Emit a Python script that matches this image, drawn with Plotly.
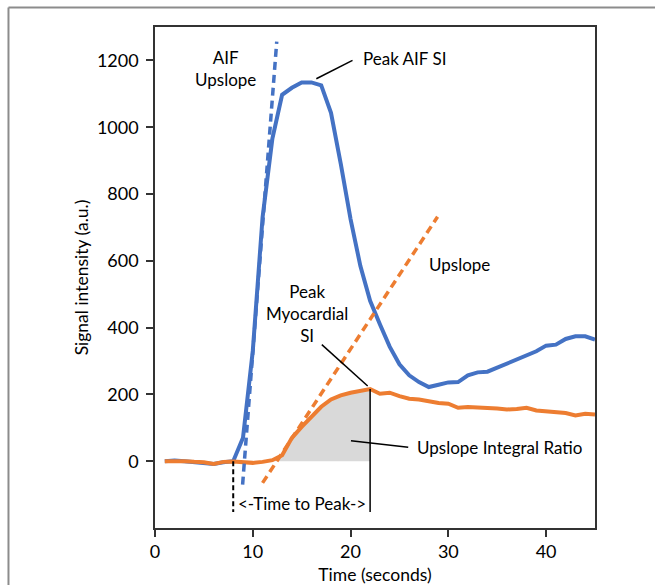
import plotly.graph_objects as go

# ---- data ----
time_s = list(range(1, 46))
aif_si = [0, 2, 0, -3, -5, -8, -3, 0, 70, 330, 730, 965, 1097, 1118, 1134,
          1134, 1125, 1043, 890, 725, 585, 480, 410, 343, 290, 257, 237, 222,
          229, 236, 237, 257, 266, 268, 280, 292, 306, 316, 329, 346, 349,
          366, 374, 374, 364]
myo_si = [0, 1, 0, -2, -3, -8, -2, -1, -3, -5, -2, 3, 18, 70, 103, 135,
          163, 185, 197, 205, 212, 216, 202, 205, 195, 187, 185, 178, 174,
          172, 160, 162, 162, 159, 158, 155, 156, 160, 152, 149, 146, 144,
          137, 142, 140]

aif_upslope_t = [8.96, 12.45]
aif_upslope_v = [-70, 1256]
myo_upslope_t = [11.0, 28.9]
myo_upslope_v = [-65, 732]

onset_t = 8
peak_t = 22
ttp_low = -152

x_ticks = [0, 10, 20, 30, 40]
y_ticks = [0, 200, 400, 600, 800, 1000, 1200]

BLUE = "#4472C4"
ORANGE = "#ED7D31"
FONT = "Lato"

# integral region (onset of myocardial upslope to peak)
i0 = time_s.index(12)
i1 = time_s.index(peak_t)
peak_v = myo_si[i1]

fig = go.Figure()

fig.add_trace(go.Scatter(x=time_s[i0:i1 + 1], y=myo_si[i0:i1 + 1], mode="lines",
                         line=dict(width=0, color="#d9d9d9"), fill="tozeroy",
                         fillcolor="#d9d9d9", hoverinfo="skip"))
fig.add_trace(go.Scatter(x=time_s, y=aif_si, mode="lines",
                         line=dict(color=BLUE, width=4)))
fig.add_trace(go.Scatter(x=time_s, y=myo_si, mode="lines",
                         line=dict(color=ORANGE, width=4)))
fig.add_trace(go.Scatter(x=aif_upslope_t, y=aif_upslope_v, mode="lines",
                         line=dict(color=BLUE, width=3.5, dash="8px,5px")))
fig.add_trace(go.Scatter(x=myo_upslope_t, y=myo_upslope_v, mode="lines",
                         line=dict(color=ORANGE, width=3.5, dash="8px,5px")))
# time-to-peak markers
fig.add_trace(go.Scatter(x=[onset_t, onset_t], y=[0, ttp_low], mode="lines",
                         line=dict(color="black", width=2, dash="5px,3px")))
fig.add_trace(go.Scatter(x=[peak_t, peak_t], y=[peak_v, ttp_low], mode="lines",
                         line=dict(color="black", width=1.5)))

# leader lines
leaders = [
    ([16.5, 20.2], [1145, 1200]),
    ([17.06, 21.75], [349, 225]),
    ([20.04, 25.9], [61, 42]),
]
for lx, ly in leaders:
    fig.add_trace(go.Scatter(x=lx, y=ly, mode="lines",
                             line=dict(color="black", width=1.5)))

labels = [
    (7.25, 1175, "AIF<br>Upslope", "center"),
    (25.5, 1205, "Peak AIF SI", "center"),
    (31.1, 590, "Upslope", "center"),
    (15.57, 443, "Peak<br>Myocardial<br>SI", "center"),
    (26.6, 42, "Upslope Integral Ratio", "left"),
    (15.0, -128, "<-Time to Peak->", "center"),
]
for x, y, txt, anc in labels:
    fig.add_annotation(x=x, y=y, text=txt, showarrow=False, xanchor=anc,
                       yanchor="middle", font=dict(family=FONT, size=17, color="black"))

# outer frame: only left and top edges fall inside the page
frame = dict(color="#8c8c8c", width=2)
fig.add_shape(type="line", xref="paper", yref="paper", x0=-0.333, x1=-0.333,
              y0=-0.3, y1=1.039, line=frame, layer="below")
fig.add_shape(type="line", xref="paper", yref="paper", x0=-0.333, x1=1.3,
              y0=1.039, y1=1.039, line=frame, layer="below")

axis_common = dict(showgrid=False, zeroline=False, showline=True, linecolor="#333333",
                   linewidth=1.5, mirror=True, ticks="outside", ticklen=7,
                   tickcolor="#333333", tickwidth=1.5,
                   tickfont=dict(family=FONT, size=18, color="black"))

fig.update_xaxes(range=[0, 45], tickvals=x_ticks, automargin=False,
                 title=dict(text="Time (seconds)", standoff=7,
                            font=dict(family=FONT, size=17.5, color="black")),
                 **axis_common)
fig.update_yaxes(range=[-200, 1300], tickvals=y_ticks, automargin=False,
                 ticklabelstandoff=4,
                 title=dict(text="Signal intensity (a.u.)", standoff=4,
                            font=dict(family=FONT, size=17.5, color="black")),
                 **axis_common)

fig.update_layout(width=655, height=585, showlegend=False,
                  margin=dict(l=154.5, r=60, t=27, b=57),
                  plot_bgcolor="white", paper_bgcolor="white")

fig.write_html("out.html", config={"displayModeBar": False},
               post_script="document.body.style.margin='0';"
                           "document.body.style.overflow='hidden';")
